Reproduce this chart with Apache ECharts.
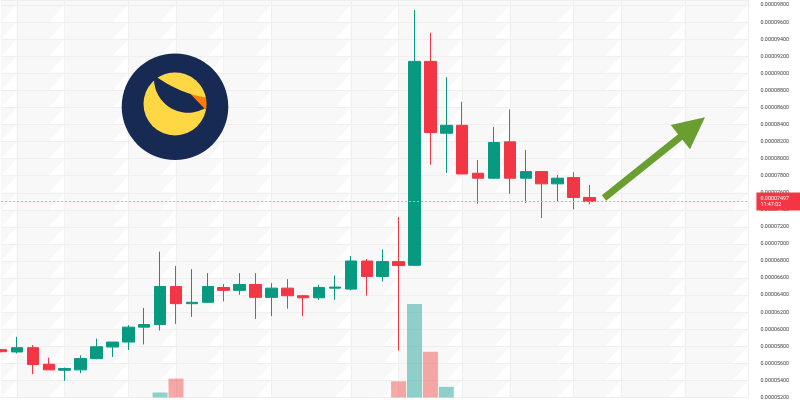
<!DOCTYPE html>
<html>
<head>
<meta charset="utf-8">
<style>html,body{margin:0;padding:0;background:#fff}#c{width:800px;height:400px}</style>
<script src="https://cdn.jsdelivr.net/npm/echarts@6/dist/echarts.min.js"></script>
</head>
<body>
<div id="c"></div>
<script>
// ---- data ----
const slots = ['0','1','2','3','4','5','6','7','8','9','10','11','12','13','14','15','16','17','18','19','20','21','22','23','24','25','26','27','28','29','30','31','32','33','34','35','36','37','38','39','40','41','42','43','44','45','46','47'];
const open  = [0.00005761,0.00005734,0.00005784,0.00005590,0.00005520,0.00005524,0.00005656,0.00005792,0.00005850,0.00006025,0.00006055,0.00006502,0.00006300,0.00006316,0.00006490,0.00006456,0.00006525,0.00006374,0.00006482,0.00006393,0.00006369,0.00006482,0.00006471,0.00006800,0.00006619,0.00006793,0.00006750,0.00009140,0.00008298,0.00008391,0.00007829,0.00007771,0.00008197,0.00007771,0.00007848,0.00007705,0.00007778,0.00007545];
const close = [0.00005737,0.00005784,0.00005586,0.00005524,0.00005539,0.00005656,0.00005795,0.00005850,0.00006025,0.00006055,0.00006502,0.00006300,0.00006316,0.00006502,0.00006456,0.00006525,0.00006374,0.00006482,0.00006393,0.00006369,0.00006490,0.00006494,0.00006800,0.00006619,0.00006793,0.00006747,0.00009140,0.00008306,0.00008391,0.00007821,0.00007771,0.00008190,0.00007771,0.00007848,0.00007705,0.00007771,0.00007545,0.00007497];
const low   = [0.00005730,0.00005717,0.00005473,0.00005524,0.00005396,0.00005485,0.00005648,0.00005675,0.00005757,0.00005822,0.00005985,0.00006063,0.00006145,0.00006308,0.00006327,0.00006404,0.00006121,0.00006153,0.00006241,0.00006153,0.00006346,0.00006346,0.00006456,0.00006393,0.00006560,0.00005749,0.00006740,0.00007929,0.00007833,0.00007821,0.00007472,0.00007763,0.00007588,0.00007480,0.00007305,0.00007503,0.00007405,0.00007464];
const high  = [0.00005765,0.00005912,0.00005815,0.00005667,0.00005551,0.00005694,0.00005889,0.00005850,0.00006048,0.00006250,0.00006910,0.00006742,0.00006704,0.00006657,0.00006529,0.00006657,0.00006657,0.00006540,0.00006587,0.00006404,0.00006521,0.00006630,0.00006858,0.00006823,0.00006936,0.00007317,0.00009742,0.00009477,0.00008954,0.00008667,0.00007984,0.00008372,0.00008578,0.00008100,0.00007848,0.00007809,0.00007841,0.00007693];
const volume = [200,210,260,220,180,200,240,230,280,330,450,590,300,260,200,190,230,210,190,170,200,220,330,280,350,563,1340,860,507,380,300,340,330,250,270,210,260,200];
const lastPrice = 0.00007497;
const lastTime = '11:47:02';
const timeGridSlots = [1,4,8,11,14,17,22,25,29,32,36,39,43,47];
const priceStep = 0.000002, priceMin = 0.000052, priceMax = 0.0000986;

const UP = '#089981', DOWN = '#f23645';
const NAVY = '#172a54', YELLOW = '#fdd744', ORANGE = '#ff7a00';
const candles = open.map((o, i) => [o, close[i], low[i], high[i]]);

// background shading cells (decoration tied to grid lines)
const shadeCells = [];
timeGridSlots.forEach(s => { for (let k = 0; k < 23; k++) shadeCells.push([s, +(priceMin + k * priceStep).toFixed(8), +(priceMin + (k + 1) * priceStep).toFixed(8)]); });

// logo geometry helpers (decoration)
function arc(cx, cy, r, a0, a1, n) {
  const pts = [];
  for (let k = 0; k <= n; k++) {
    const a = (a0 + (a1 - a0) * k / n) * Math.PI / 180;
    pts.push([cx + r * Math.cos(a), cy + r * Math.sin(a)]);
  }
  return pts;
}
function quad(p0, c, p1, n) {
  const pts = [];
  for (let k = 0; k <= n; k++) {
    const t = k / n, u = 1 - t;
    pts.push([u*u*p0[0] + 2*u*t*c[0] + t*t*p1[0], u*u*p0[1] + 2*u*t*c[1] + t*t*p1[1]]);
  }
  return pts;
}
const bandPts = arc(188, 78.7, 34, 180, 30, 40).concat([[212, 72], [175, 66], [150, 72]]);
const orangePts = [[189, 92.5]].concat(arc(175, 104, 31.5, 11, -12.8, 10));
const capPts = quad([158, 78], [182, 94], [205.8, 97.5], 30).concat(arc(175, 104, 31.5, -12.8, -123, 40));

const priceLineStyle = {color: '#f4a0a7', type: [2, 2], width: 1, opacity: 1};

const chart = echarts.init(document.getElementById('c'), null, {renderer: 'canvas'});
chart.setOption({
  animation: false,
  backgroundColor: '#ffffff',
  grid: {left: 1.1, right: 51.6, top: 0, bottom: 0, show: true, backgroundColor: '#f8f8f8', borderWidth: 0},
  xAxis: {
    type: 'category', data: slots, boundaryGap: false,
    axisLine: {show: false}, axisTick: {show: false}, axisLabel: {show: false},
    splitLine: {show: true, interval: (idx) => timeGridSlots.indexOf(idx) >= 0,
      lineStyle: {color: '#efefef', width: 1}}
  },
  yAxis: [{
    type: 'value', position: 'right',
    min: priceMin, max: priceMax, interval: priceStep,
    axisLine: {show: false}, axisTick: {show: false},
    axisLabel: {margin: 12, fontSize: 5.4, color: '#444', fontFamily: 'Roboto',
      formatter: v => (Math.round(v * 1e8) % 200 === 0 ? v.toFixed(8) : '')},
    splitLine: {lineStyle: {color: '#efefef', width: 1}}
  }, {
    type: 'value', min: 400, max: 4400, show: false, splitLine: {show: false}
  }],
  graphic: [
    {type: 'circle', z: 5, silent: true, shape: {cx: 175, cy: 106.7, r: 53.3}, style: {fill: NAVY}},
    {type: 'circle', z: 6, silent: true, shape: {cx: 175, cy: 104, r: 31.5}, style: {fill: YELLOW}},
    {type: 'polygon', z: 7, silent: true, shape: {points: bandPts}, style: {fill: NAVY}},
    {type: 'polygon', z: 8, silent: true, shape: {points: orangePts}, style: {fill: ORANGE}},
    {type: 'polygon', z: 9, silent: true, shape: {points: capPts}, style: {fill: YELLOW}},
    {type: 'line', z: 10, silent: true, shape: {x1: 604, y1: 198, x2: 684, y2: 134}, style: {stroke: '#6a9e31', lineWidth: 7}},
    {type: 'polygon', z: 10, silent: true, shape: {points: [[705, 117.3], [670.7, 125], [690, 149.3]]}, style: {fill: '#6a9e31'}}
  ],
  series: [{
    type: 'custom', silent: true, z: 0, xAxisIndex: 0, yAxisIndex: 0,
    data: shadeCells, encode: {x: 0, y: [1, 2]},
    renderItem: (params, api) => {
      const b = api.coord([api.value(0), api.value(1)]);
      const t = api.coord([api.value(0), api.value(2)]);
      return {type: 'polygon', shape: {points: [[b[0] - 0.5, t[1] + 0.5], [b[0] - 0.5, b[1] - 0.5], [b[0] - 15.5, b[1] - 0.5]]},
        style: {fill: '#ffffff'}};
    }
  }, {
    type: 'bar', xAxisIndex: 0, yAxisIndex: 1, barWidth: 15, z: 1,
    data: volume.map((v, i) => ({value: v, itemStyle: {color: close[i] >= open[i] ? 'rgba(38,166,154,0.5)' : 'rgba(239,83,80,0.5)'}}))
  }, {
    type: 'candlestick', xAxisIndex: 0, yAxisIndex: 0, barWidth: 12, z: 3,
    data: candles,
    itemStyle: {color: UP, color0: DOWN, borderColor: UP, borderColor0: DOWN, borderWidth: 1},
    markLine: {
      symbol: ['none', 'none'], silent: true, precision: 8,
      itemStyle: {color: '#f4a0a7'},
      lineStyle: priceLineStyle,
      data: [{yAxis: lastPrice, lineStyle: priceLineStyle}],
      label: {show: true, position: 'end', distance: 8, formatter: () => lastPrice.toFixed(8) + '\n' + lastTime,
        backgroundColor: DOWN, color: '#fff', fontSize: 5.4, lineHeight: 6, fontFamily: 'Roboto',
        padding: [3, 12, 3, 4], align: 'left'}
    }
  }]
});
</script>
</body>
</html>
